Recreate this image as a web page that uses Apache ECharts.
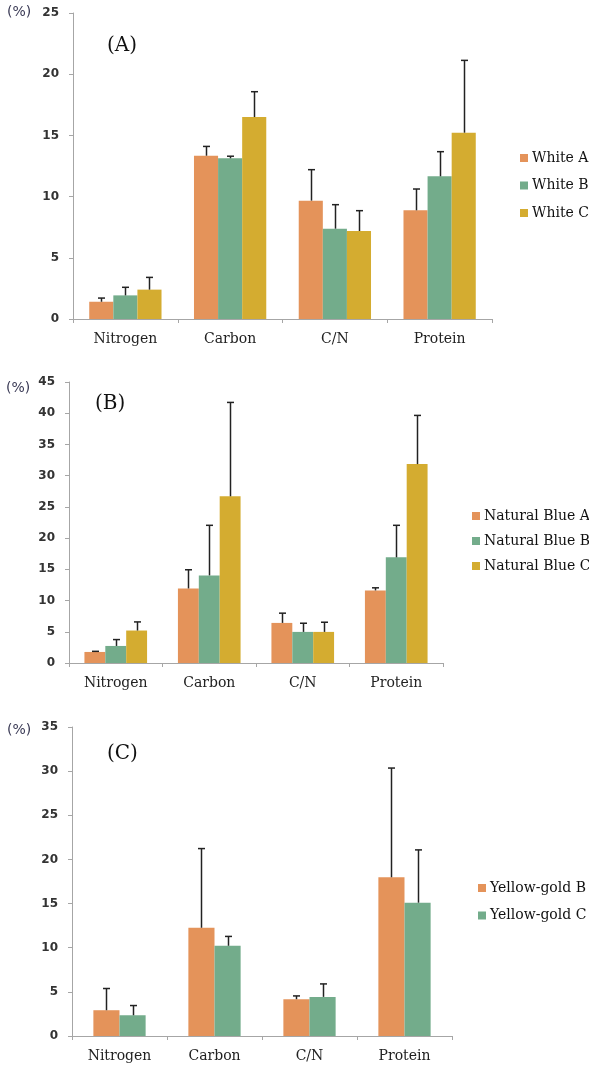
<!DOCTYPE html>
<html>
<head>
<meta charset="utf-8">
<script src="https://cdn.jsdelivr.net/npm/echarts@6/dist/echarts.min.js"></script>
<style>
html,body{margin:0;padding:0;background:#fff;}
#chart{width:589px;height:1071px;}
</style>
</head>
<body>
<div id="chart"></div>
<script>
const categories = ['Nitrogen', 'Carbon', 'C/N', 'Protein'];

// Panel A
const namesA = ['White A', 'White B', 'White C'];
const whiteA = [1.41, 13.34, 9.67, 8.88];
const whiteB = [1.93, 13.13, 7.38, 11.66];
const whiteC = [2.40, 16.50, 7.19, 15.22];
const whiteAErr = [0.30, 0.76, 2.53, 1.74];
const whiteBErr = [0.66, 0.17, 1.96, 2.01];
const whiteCErr = [1.00, 2.07, 1.66, 5.91];
const ticksA = [0, 5, 10, 15, 20, 25];

// Panel B
const namesB = ['Natural Blue A', 'Natural Blue B', 'Natural Blue C'];
const blueA = [1.77, 11.94, 6.42, 11.62];
const blueB = [2.73, 14.03, 4.98, 16.92];
const blueC = [5.20, 26.70, 4.98, 31.85];
const blueAErr = [0.10, 2.99, 1.56, 0.42];
const blueBErr = [1.02, 8.02, 1.39, 5.13];
const blueCErr = [1.38, 15.03, 1.55, 7.80];
const ticksB = [0, 5, 10, 15, 20, 25, 30, 35, 40, 45];

// Panel C
const namesC = ['Yellow-gold B', 'Yellow-gold C'];
const goldB = [2.92, 12.26, 4.17, 17.98];
const goldC = [2.35, 10.22, 4.43, 15.10];
const goldBErr = [2.46, 8.97, 0.37, 12.37];
const goldCErr = [1.10, 1.06, 1.47, 5.98];
const ticksC = [0, 5, 10, 15, 20, 25, 30, 35];

const panelLabels = ['(A)', '(B)', '(C)'];
const unitLabel = '(%)';

const colors = ['#E4935A', '#73AC8B', '#D4AC30'];
const serif = '"DejaVu Serif", "Liberation Serif", serif';
const sans = '"DejaVu Sans", sans-serif';

const panels = [
  {names: namesA, vals: [whiteA, whiteB, whiteC], errs: [whiteAErr, whiteBErr, whiteCErr], ticks: ticksA,
   grid: {left: 73, top: 13, width: 419, height: 306}, gap: 0.31,
   legend: {left: 515, top: 146, itemGap: 13.5}, label: {x: 107, y: 36}, unit: {x: 7, y: 5}},
  {names: namesB, vals: [blueA, blueB, blueC], errs: [blueAErr, blueBErr, blueCErr], ticks: ticksB,
   grid: {left: 69, top: 382, width: 374, height: 281}, gap: 0.33,
   legend: {left: 467, top: 504, itemGap: 11}, label: {x: 95, y: 394}, unit: {x: 6, y: 381}},
  {names: namesC, vals: [goldB, goldC], errs: [goldBErr, goldCErr], ticks: ticksC,
   grid: {left: 72, top: 727, width: 380, height: 309}, gap: 0.45,
   legend: {left: 473, top: 876, itemGap: 13.5}, label: {x: 107, y: 744}, unit: {x: 7, y: 723}}
];

const grids = [], xAxes = [], yAxes = [], series = [], legends = [], graphics = [];

panels.forEach((p, pi) => {
  grids.push(Object.assign({containLabel: false}, p.grid));
  xAxes.push({
    type: 'category', gridIndex: pi, data: categories,
    axisLine: {lineStyle: {color: '#A6A6A6', width: 1}},
    axisTick: {show: true, length: 4, alignWithLabel: false, lineStyle: {color: '#A6A6A6'}},
    axisLabel: {color: '#222', fontFamily: serif, fontSize: 14, margin: 13},
    splitLine: {show: false}
  });
  const mx = p.ticks[p.ticks.length - 1];
  yAxes.push({
    type: 'value', gridIndex: pi, min: p.ticks[0], max: mx, interval: p.ticks[1] - p.ticks[0],
    axisLine: {show: true, lineStyle: {color: '#A6A6A6', width: 1}},
    axisTick: {show: true, length: 4, lineStyle: {color: '#A6A6A6'}},
    axisLabel: {color: '#333', fontFamily: sans, fontSize: 12, fontWeight: 'bold', margin: 14},
    splitLine: {show: false}
  });
  const n = p.names.length;
  p.names.forEach((nm, si) => {
    series.push({
      type: 'bar', name: nm, xAxisIndex: pi, yAxisIndex: pi, data: p.vals[si],
      barGap: '0%', barCategoryGap: (p.gap * 100) + '%',
      itemStyle: {color: colors[si]}, z: 2
    });
  });
  p.names.forEach((nm, si) => {
    const errData = p.vals[si].map((v, ci) => [ci, v, p.errs[si][ci]]);
    series.push({
      type: 'custom', xAxisIndex: pi, yAxisIndex: pi, data: errData, z: 3, silent: true,
      renderItem: function (params, api) {
        const ci = api.value(0), v = api.value(1), e = api.value(2);
        const band = api.size([1, 0])[0];
        const bw = band * (1 - p.gap) / n;
        const c = api.coord([ci, v]);
        const top = api.coord([ci, v + e]);
        const x = Math.round(c[0] - n * bw / 2 + (si + 0.5) * bw) + 0.5;
        const capHalf = 3.5;
        return {
          type: 'group',
          children: [
            {type: 'line', shape: {x1: x, y1: c[1], x2: x, y2: top[1]}, style: {stroke: '#222', lineWidth: 1.5}},
            {type: 'line', shape: {x1: x - capHalf, y1: top[1], x2: x + capHalf, y2: top[1]}, style: {stroke: '#222', lineWidth: 1.5}}
          ]
        };
      }
    });
  });
  legends.push({
    data: p.names, orient: 'vertical', left: p.legend.left, top: p.legend.top,
    itemWidth: 8, itemHeight: 8, itemGap: p.legend.itemGap, icon: 'rect', selectedMode: false,
    textStyle: {fontFamily: serif, fontSize: 14, color: '#111', padding: [0, 0, 0, -1]}
  });
  graphics.push({type: 'text', left: p.label.x, top: p.label.y,
    style: {text: panelLabels[pi], font: '20px ' + serif, fill: '#111'}});
  graphics.push({type: 'text', left: p.unit.x, top: p.unit.y,
    style: {text: unitLabel, font: '14px ' + sans, fill: '#3a3a55'}});
});

const chart = echarts.init(document.getElementById('chart'), null, {renderer: 'canvas'});
chart.setOption({
  animation: false,
  backgroundColor: '#ffffff',
  grid: grids, xAxis: xAxes, yAxis: yAxes, series: series, legend: legends,
  graphic: graphics
});
</script>
</body>
</html>
